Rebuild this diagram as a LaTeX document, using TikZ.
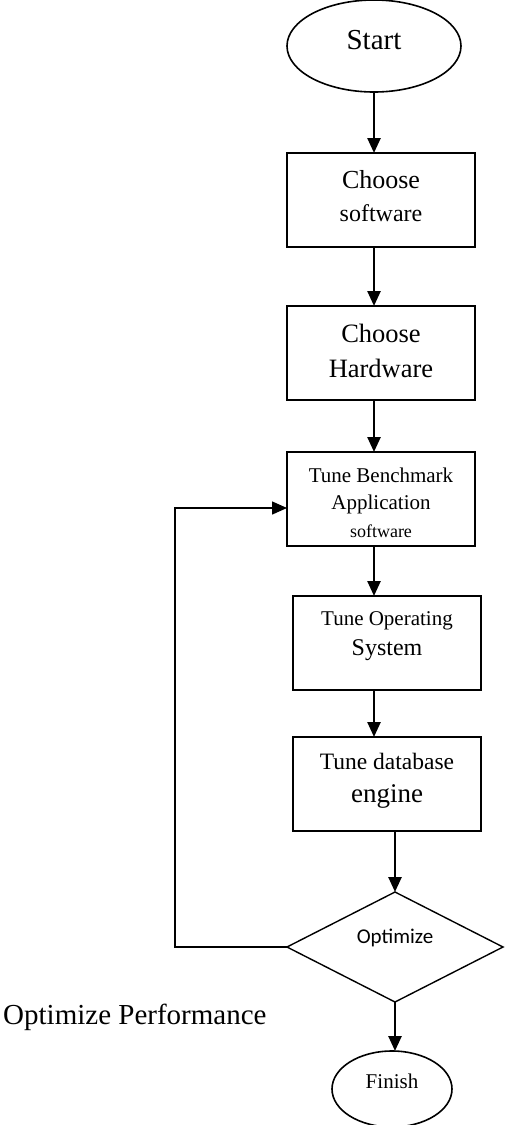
\documentclass[tikz,border=0pt]{standalone}
\usepackage{fontspec}
\setmainfont{Liberation Serif}
\newfontfamily\calfont{Carlito}
\usetikzlibrary{positioning, arrows.meta, shapes.geometric}
\tikzset{flecha/.style={line width=2.5pt, -{Triangle[length=15pt,width=13pt]}}}
\tikzset{retorno/.style={line width=1.5pt, -{Triangle[length=15pt,width=13pt]}}}
\tikzset{caja/.style={draw, rectangle, line width=1.8pt, minimum width=188pt, minimum height=94pt, inner sep=0pt, outer sep=0pt, align=center}}
\tikzset{elipse/.style={draw, ellipse, line width=1.6pt, inner sep=0pt, outer sep=0pt}}
\tikzset{rombo/.style={draw, diamond, aspect=2, line width=1.4pt, minimum width=216pt, minimum height=110pt, inner sep=0pt, outer sep=0pt}}
\newcommand{\tam}[2]{{\fontsize{#1}{#1}\selectfont #2}}

\begin{document}
\begin{tikzpicture}[x=1pt, y=-1pt]
                \useasboundingbox (0,0) rectangle (504,1125);

                \node[elipse, minimum width=174pt, minimum height=92pt, text depth=12pt, font=\fontsize{29}{34}\selectfont](start) at (374,46) {Start};
                \node[caja, below=61pt of start, xshift=7pt, font=\fontsize{26}{33}\selectfont](sw) {Choose\\ \tam{24}{software}\\[-25pt]};
                \node[caja, below=59pt of sw, font=\fontsize{26.5}{35}\selectfont](hw) {Choose\\ Hardware\\[-31pt]};
                \node[caja, below=52pt of hw, font=\fontsize{21}{27.5}\selectfont](bm) {\rule{0pt}{22pt}Tune Benchmark\\ Application\\ \tam{18}{software}};
                \node[caja, below=50pt of bm, xshift=6pt, font=\fontsize{21}{30}\selectfont](os) {Tune Operating\\ \tam{24}{System}\\[-12pt]};
                \node[caja, below=47pt of os, font=\fontsize{23.5}{33}\selectfont](db) {Tune database\\ \tam{27}{engine}\\[-20pt]};
                \node[rombo, below=61pt of db, xshift=8pt, text depth=21pt, font=\calfont\fontsize{21}{25}\selectfont](dec) {Optimize};
                \node[elipse, minimum width=120pt, minimum height=76pt, below=49pt of dec, xshift=-3pt, text depth=15pt, font=\fontsize{21}{25}\selectfont](fin) {Finish};
                \node[anchor=west, inner sep=0pt, font=\fontsize{29}{34}\selectfont](perf) at (3,1017) {Optimize Performance};

                \coordinate (giro) at (175,508);

                \draw[flecha] (start.south) -- (start.south |- sw.north);
                \draw[flecha] (sw.south -| start) -- (hw.north -| start);
                \draw[flecha] (hw.south -| start) -- (bm.north -| start);
                \draw[flecha] (bm.south -| start) -- (os.north -| start);
                \draw[flecha] (os.south -| start) -- (db.north -| start);
                \draw[flecha] (db.south -| dec) -- (dec.north);
                \draw[flecha] (dec.south) -- (dec.south |- fin.north);
                \draw[retorno] (dec.west) -| (giro) -- (giro -| bm.west);
            \end{tikzpicture}
\end{document}
